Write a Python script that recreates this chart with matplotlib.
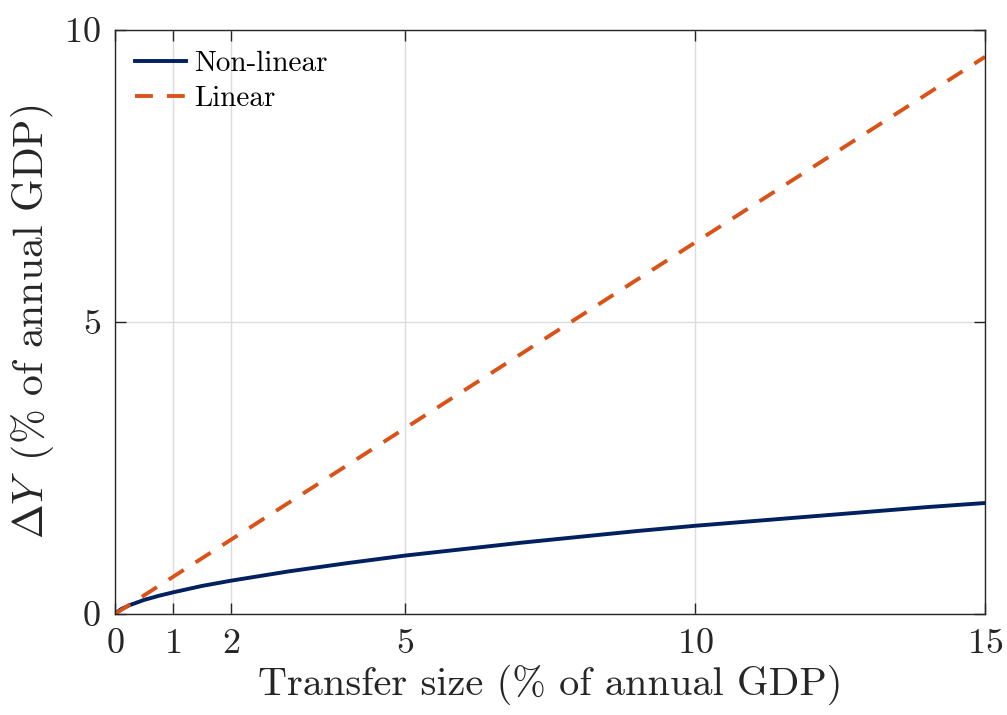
import numpy as np
import matplotlib.pyplot as plt

plt.rcParams['font.family'] = 'cmr10'
plt.rcParams['mathtext.fontset'] = 'cm'
plt.rcParams['axes.formatter.use_mathtext'] = True
plt.rcParams['axes.unicode_minus'] = False

# transfer size (% of annual GDP) and output response
transfer = [0, 0.1, 0.25, 0.5, 0.75, 1, 1.5, 2, 2.5, 3, 4, 5, 6, 7, 8, 9, 10,
            11, 12, 13, 14, 15]
dy_nonlinear = [0, 0.08, 0.15, 0.24, 0.31, 0.37, 0.48, 0.57, 0.65, 0.73, 0.87,
                1.00, 1.11, 1.22, 1.32, 1.42, 1.51, 1.59, 1.67, 1.75, 1.83, 1.90]
transfer_lin = [0, 15]
dy_linear = [0, 9.54]

xticks = [0, 1, 2, 5, 10, 15]
yticks = [0, 5, 10]

fig = plt.figure(figsize=(10.07, 7.15), dpi=100)
ax = fig.add_axes([0.1142, 0.1413, 0.8640, 0.8168])

ax.plot(transfer, dy_nonlinear, color='#002060', lw=2.8, label='Non-linear')
ax.plot(transfer_lin, dy_linear, color='#D95319', lw=2.8, ls=(0, (4.6, 3.6)),
        label='Linear')

ax.set_xlim(0, 15)
ax.set_ylim(0, 10)
ax.set_xticks(xticks)
ax.set_yticks(yticks)
ax.grid(True, color='#dcdcdc', lw=1)
ax.set_axisbelow(True)
ax.tick_params(direction='in', top=True, right=True, length=8, width=1,
               labelsize=26, colors='#262626', pad=10)
for s in ax.spines.values():
    s.set_color('#262626')
    s.set_linewidth(1)

ax.set_xlabel('Transfer size (% of annual GDP)', fontsize=29, color='#262626',
              labelpad=4)
ax.set_ylabel(r'$\Delta Y\,$ (% of annual GDP)', fontsize=30, color='#262626',
              labelpad=6)

ax.legend(loc='upper left', frameon=False, fontsize=21, handlelength=1.75,
          handletextpad=0.25, labelspacing=0.3, borderaxespad=0.3,
          borderpad=0.4)

fig.savefig('out.png', dpi=100)
